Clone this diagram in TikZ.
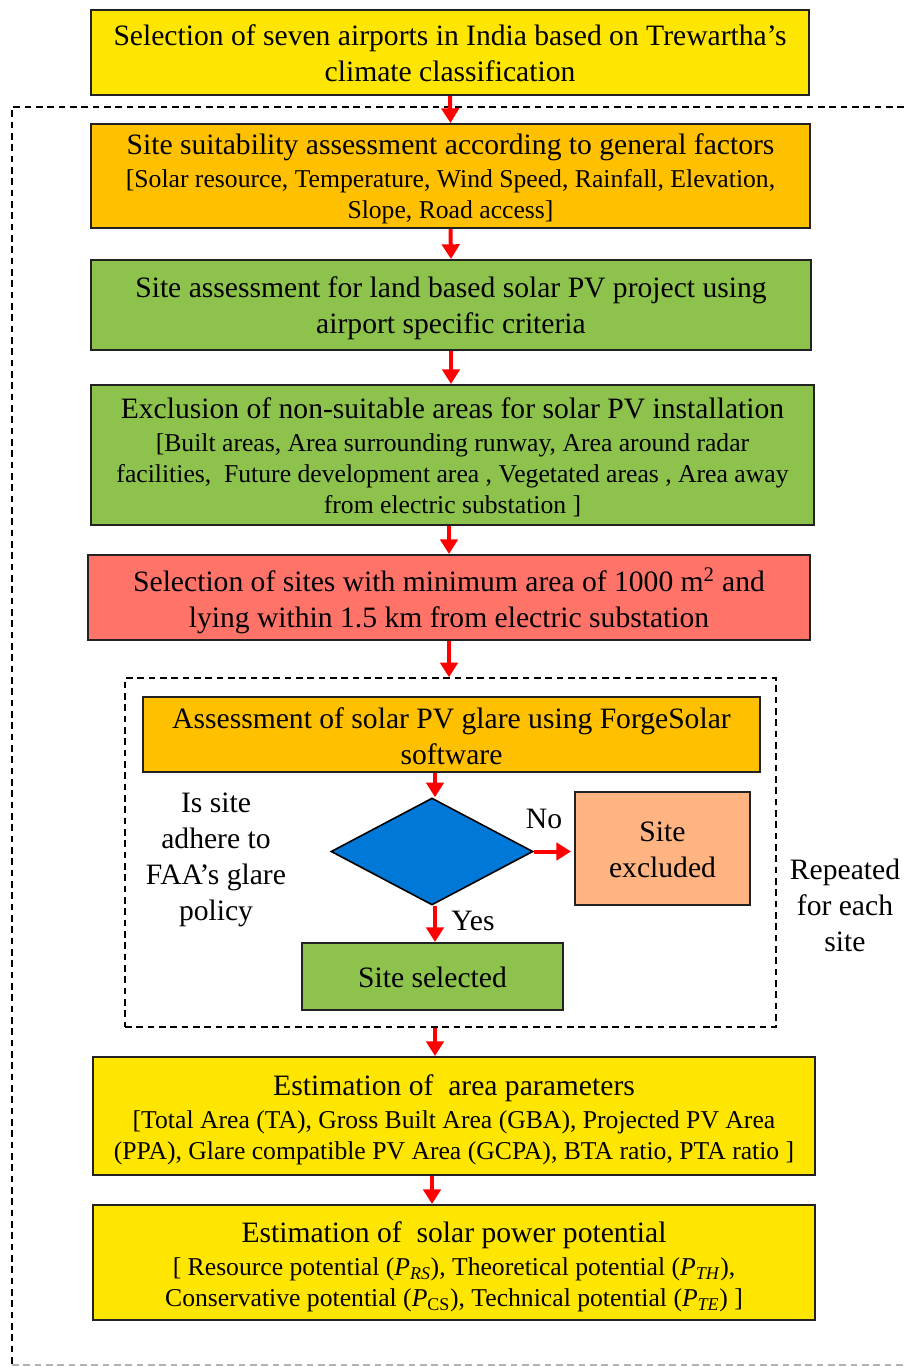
\documentclass[tikz,border=0pt]{standalone}
\usepackage{fontspec}
\setmainfont{Liberation Serif}
\usetikzlibrary{shapes.geometric,arrows.meta}
\definecolor{cyell}{HTML}{FFE600}
\definecolor{corng}{HTML}{FFC000}
\definecolor{cgrn}{HTML}{8DC24C}
\definecolor{cred}{HTML}{FF7369}
\definecolor{cblue}{HTML}{0078D7}
\definecolor{cpeach}{HTML}{FFB482}
\definecolor{cborder}{HTML}{222222}
\newcommand{\mainsz}{\fontsize{22.2}{27}\selectfont}
\newcommand{\subsz}{\fontsize{19.25}{23.25}\selectfont}
\begin{document}
\begin{tikzpicture}[x=0.75pt,y=-0.75pt,
  boxa/.style={draw=cborder,line width=1.5pt,rectangle,inner sep=0pt},
  txt/.style={align=center,inner sep=0pt,font=\mainsz},
  arr/.style={draw=red,line width=3pt,-{Triangle[length=11pt,width=13pt]}},
  dashbox/.style={draw=black,line width=1.1pt,dash pattern=on 5pt off 3.5pt},
  lbl/.style={align=center,font=\mainsz,inner sep=0pt}]
\useasboundingbox (0,0) rectangle (904,1367);
% outer dashed frame
\draw[dashbox] (904,107) -- (12,107) -- (12,1365);
\draw[dashbox,draw=gray!60] (12,1365) -- (904,1365);
\coordinate (x435) at (435,0);
\coordinate (x432) at (432,0);
% boxes
\node[boxa,fill=cyell,minimum width=538.5pt,minimum height=63.75pt] (b1) at (450,52.5) {};
\node[txt] (t1) at ([yshift=-0.75pt]b1.center)
  {Selection of seven airports in India based on Trewartha’s\\climate classification};
\node[boxa,fill=corng,minimum width=539.25pt,minimum height=78pt] (b2) at (450.5,176) {};
\node[txt] (t2) at ([yshift=-2.25pt]b2.center)
  {Site suitability assessment according to general factors\\[-2pt]
   {\subsz [Solar resource, Temperature, Wind Speed, Rainfall, Elevation,}\\[-3.75pt]
   {\subsz Slope, Road access]}};
\node[boxa,fill=cgrn,minimum width=540pt,minimum height=67.5pt] (b3) at (451,305) {};
\node[txt] (t3) at ([yshift=-2.25pt]b3.center)
  {Site assessment for land based solar PV project using\\airport specific criteria};
\node[boxa,fill=cgrn,minimum width=542.25pt,minimum height=105pt] (b4) at (452.5,455) {};
\node[txt] (t4) at ([yshift=-1.5pt]b4.center)
  {Exclusion of non-suitable areas for solar PV installation\\[-2pt]
   {\subsz [Built areas, Area surrounding runway, Area around radar}\\[-3.75pt]
   {\subsz facilities, \ Future development area , Vegetated areas , Area away}\\[-3.75pt]
   {\subsz from electric substation ]}};
\node[boxa,fill=cred,minimum width=541.5pt,minimum height=63.75pt] (b5) at (449,597.5) {};
\node[txt] (t5) at ([yshift=-2.25pt]b5.center)
  {Selection of sites with minimum area of 1000 m\textsuperscript{2} and\\lying within 1.5 km from electric substation};
% inner dashed box
\node[dashbox,rectangle,minimum width=488.25pt,minimum height=261.75pt,inner sep=0pt] (inner) at (450.5,852.5) {};
\node[boxa,fill=corng,minimum width=462.75pt,minimum height=56.25pt] (b7) at (451.5,734.5) {};
\node[txt] (t7) at ([yshift=-1.5pt]b7.center)
  {Assessment of solar PV glare using ForgeSolar\\software};
\node[diamond,draw=black,line width=1.2pt,fill=cblue,inner sep=0pt,minimum width=151.5pt,minimum height=80.25pt] (dia) at (432,851.5) {};
\node[boxa,fill=cpeach,minimum width=131.25pt,minimum height=84.75pt] (excl) at (662.5,848.5) {};
\node[txt] (texcl) at ([yshift=-0.75pt]excl.center) {Site\\excluded};
\coordinate (exin) at (571,851.5);
\node[boxa,fill=cgrn,minimum width=195.75pt,minimum height=50.25pt] (sel) at (432.5,976.5) {};
\node[txt] (tsel) at ([yshift=-0.75pt]sel.center) {Site selected};
\node[lbl] (q) at (216,860) {Is site\\adhere to\\FAA’s glare\\policy};
\node[lbl] (no) at (544,819) {No};
\node[lbl] (yes) at (473,921) {Yes};
\node[lbl] (rep) at (845,905) {Repeated\\for each\\site};
% bottom boxes
\node[boxa,fill=cyell,minimum width=541.5pt,minimum height=88.5pt] (b11) at (454,1116) {};
\node[txt] (t11) at ([yshift=-3pt]b11.center)
  {Estimation of \ area parameters\\[-2pt]
   {\subsz [Total Area (TA), Gross Built Area (GBA), Projected PV Area}\\[-3.75pt]
   {\subsz (PPA), Glare compatible PV Area (GCPA), BTA ratio, PTA ratio ]}};
\node[boxa,fill=cyell,minimum width=541.5pt,minimum height=86.25pt] (b12) at (454,1262.5) {};
\node[txt] (t12) at ([yshift=-3pt]b12.center)
  {Estimation of \ solar power potential\\[-2pt]
   {\subsz [ Resource potential (\textit{P}\textsubscript{\textit{RS}}), Theoretical potential (\textit{P}\textsubscript{\textit{TH}}),}\\[-3.75pt]
   {\subsz Conservative potential (\textit{P}\textsubscript{CS}), Technical potential (\textit{P}\textsubscript{\textit{TE}}) ]}};
% arrows
\draw[arr] (b1.south) -- (b2.north);
\draw[arr] (b2.south) -- (b3.north);
\draw[arr] (b3.south) -- (b3.south |- b4.north);
\draw[arr] (b4.south -| b5.north) -- (b5.north);
\draw[arr] (b5.south) -- (b5.south |- inner.north);
\draw[arr] (b7.south -| x435) -- (dia.north -| x435);
\draw[arr] (dia.east) -- (exin);
\draw[arr] (dia.south -| x435) -- (sel.north -| x435);
\draw[arr] (inner.south -| x435) -- (b11.north -| x435);
\draw[arr] (b11.south -| x432) -- (b12.north -| x432);
\end{tikzpicture}
\end{document}
